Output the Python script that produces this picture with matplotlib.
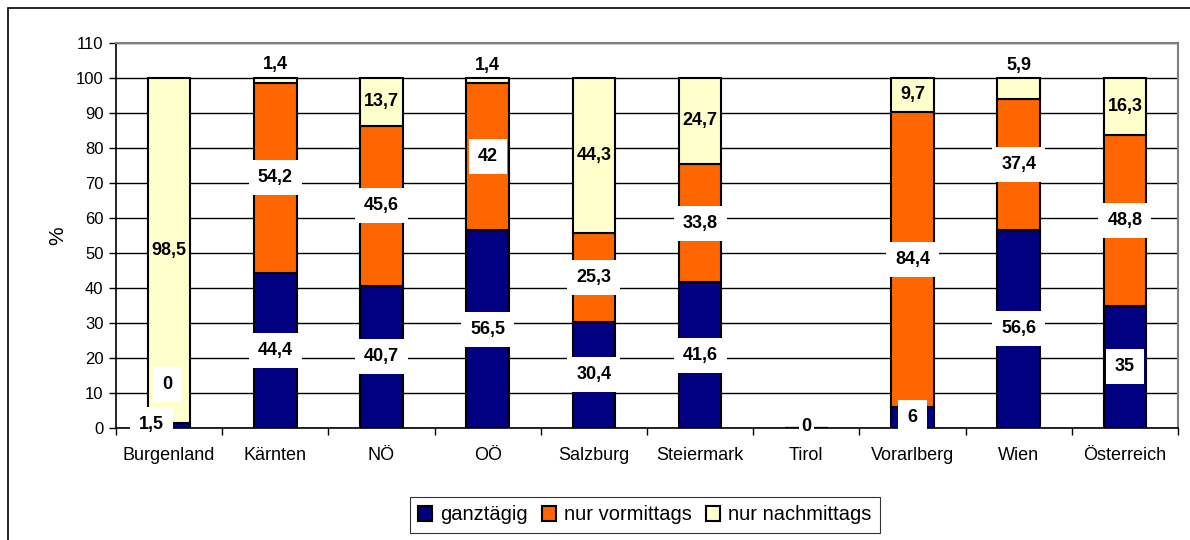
import matplotlib.pyplot as plt
from matplotlib.patches import Rectangle
import numpy as np

regions = ["Burgenland", "Kärnten", "NÖ", "OÖ", "Salzburg", "Steiermark",
           "Tirol", "Vorarlberg", "Wien", "Österreich"]
ganztaegig = [1.5, 44.4, 40.7, 56.5, 30.4, 41.6, 0, 6, 56.6, 35]
vormittags = [0, 54.2, 45.6, 42, 25.3, 33.8, 0, 84.4, 37.4, 48.8]
nachmittags = [98.5, 1.4, 13.7, 1.4, 44.3, 24.7, 0, 9.7, 5.9, 16.3]
series_names = ["ganztägig", "nur vormittags", "nur nachmittags"]
colors = ["#000080", "#FF6600", "#FFFFCC"]

plt.rcParams["font.family"] = ["Liberation Sans", "DejaVu Sans"]


def fmt(v):
    return ("%g" % v).replace(".", ",")


def add_label(ax, x, y, v, boxed=True, pad=0.5):
    kw = dict(ha="center", va="center", fontsize=13, fontweight="bold",
              color="black", zorder=5, clip_on=False)
    if boxed:
        kw["bbox"] = dict(boxstyle="square,pad=%g" % pad, fc="white",
                          ec="none")
    ax.text(x, y, fmt(v), **kw)


fig = plt.figure(figsize=(11.9, 5.4), dpi=100)
ax = fig.add_axes([116 / 1190, 1 - 428 / 540, 1062 / 1190, 385 / 540])

# outer chart border
fig.patches.append(Rectangle((8 / 1190, -0.1), 1.2, 0.1 + 1 - 8 / 540,
                             transform=fig.transFigure, fill=False,
                             ec="black", lw=1.2))

x = np.arange(len(regions))
series = [np.array(ganztaegig), np.array(vormittags), np.array(nachmittags)]
bottom = np.zeros(len(regions))
for vals, name, col in zip(series, series_names, colors):
    ax.bar(x, vals, 0.4, bottom=bottom, color=col, edgecolor="black",
           lw=1.5, label=name, zorder=3)
    bottom = bottom + vals

# value labels
for i, r in enumerate(regions):
    g, v, n = ganztaegig[i], vormittags[i], nachmittags[i]
    if g + v + n == 0:
        add_label(ax, i, 0.3, 0, pad=0.15)
        continue
    if r == "Burgenland":
        add_label(ax, i - 0.17, 1.0, g)
        add_label(ax, i - 0.02, 12.5, v)
        add_label(ax, i, g + v + n / 2, n, boxed=False)
        continue
    add_label(ax, i, g / 2, g)
    add_label(ax, i, g + v / 2, v)
    if n < 7:
        add_label(ax, i, g + v + n + 3.8, n, boxed=False)
    else:
        add_label(ax, i, g + v + n / 2, n, boxed=False)

ax.set_xlim(-0.5, len(regions) - 0.5)
ax.set_ylim(0, 110)
ax.set_yticks(np.arange(0, 111, 10))
ax.yaxis.grid(True, color="black", lw=1.0, zorder=0)
ax.set_axisbelow(True)
ax.set_xticks(x)
ax.set_xticklabels(regions, fontsize=13)
ax.set_xticks(np.arange(-0.5, len(regions), 1), minor=True)
ax.tick_params(axis="x", which="major", length=0, pad=14)
ax.tick_params(axis="x", which="minor", length=5, width=1, color="black")
ax.tick_params(axis="y", length=5, width=1, labelsize=12, pad=4)
ax.set_ylabel("%", fontsize=15, labelpad=6)

for s in ["top", "right"]:
    ax.spines[s].set_color("#808080")
    ax.spines[s].set_linewidth(1.5)
for s in ["left", "bottom"]:
    ax.spines[s].set_color("black")
    ax.spines[s].set_linewidth(1.2)

leg = fig.legend(loc="center", bbox_to_anchor=(645 / 1190, 1 - 515 / 540),
                 ncol=3, fontsize=14.5, frameon=True, fancybox=False,
                 edgecolor="black", handlelength=0.7, handleheight=0.7,
                 handletextpad=0.4, columnspacing=0.7, borderpad=0.4)
leg.get_frame().set_linewidth(0.8)

fig.savefig("out.png", dpi=100)
